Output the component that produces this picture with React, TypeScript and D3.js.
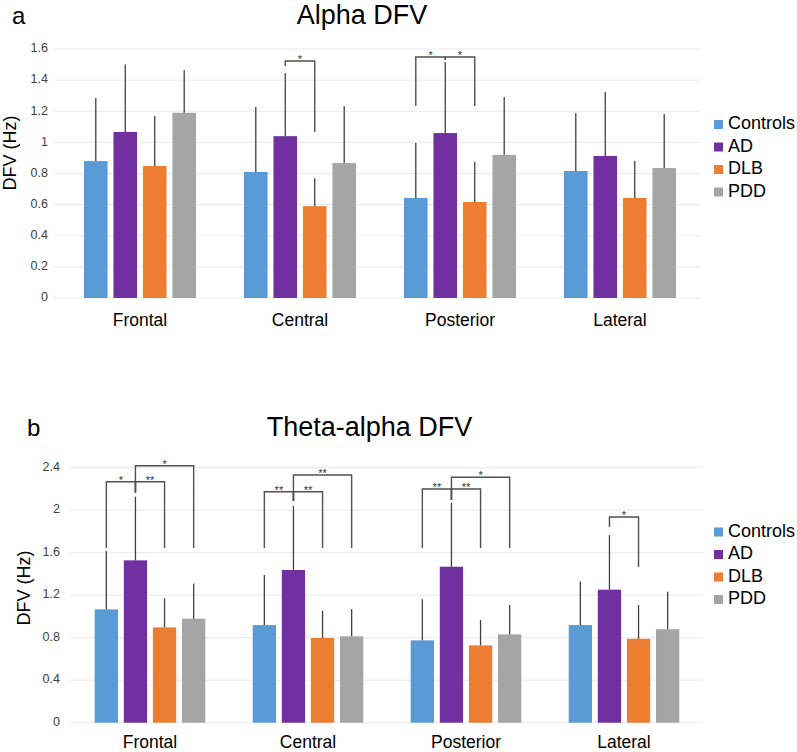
import React from "react";
import * as d3 from "d3";

const regions = ["Frontal", "Central", "Posterior", "Lateral"];
const groups = ["Controls", "AD", "DLB", "PDD"];
const groupColors = ["#5B9BD5", "#7030A0", "#ED7D31", "#A5A5A5"];

// Panel a: Alpha DFV (mean and SD, Hz)
const alphaControls = [0.88, 0.81, 0.643, 0.816];
const alphaAD = [1.067, 1.04, 1.06, 0.913];
const alphaDLB = [0.848, 0.59, 0.617, 0.643];
const alphaPDD = [1.19, 0.867, 0.92, 0.835];
const alphaControlsSD = [0.405, 0.417, 0.353, 0.373];
const alphaADSD = [0.433, 0.405, 0.456, 0.411];
const alphaDLBSD = [0.322, 0.18, 0.257, 0.237];
const alphaPDDSD = [0.275, 0.367, 0.372, 0.348];
const alphaTicks = [0, 0.2, 0.4, 0.6, 0.8, 1, 1.2, 1.4, 1.6];

// Panel b: Theta-alpha DFV
const thetaControls = [1.067, 0.919, 0.775, 0.919];
const thetaAD = [1.528, 1.437, 1.468, 1.252];
const thetaDLB = [0.897, 0.797, 0.728, 0.79];
const thetaPDD = [0.979, 0.813, 0.831, 0.88];
const thetaControlsSD = [0.549, 0.471, 0.386, 0.411];
const thetaADSD = [0.599, 0.603, 0.602, 0.514];
const thetaDLBSD = [0.273, 0.257, 0.238, 0.317];
const thetaPDDSD = [0.332, 0.257, 0.276, 0.353];
const thetaTicks = [0, 0.4, 0.8, 1.2, 1.6, 2, 2.4];

// Significance brackets: [region, from group, to group, level, from-leg end, to-leg end, label]
const alphaBrackets: [string, string, string, number, number, number, string][] = [
  ["Central", "AD", "DLB", 1.523, 1.49, 1.067, "*"],
  ["Posterior", "Controls", "AD", 1.549, 1.234, 1.53, "*"],
  ["Posterior", "AD", "DLB", 1.549, 1.53, 1.234, "*"],
];
const thetaBrackets: [string, string, string, number, number, number, string][] = [
  ["Frontal", "Controls", "AD", 2.268, 1.644, 2.165, "*"],
  ["Frontal", "AD", "DLB", 2.268, 2.165, 1.644, "**"],
  ["Frontal", "AD", "PDD", 2.419, 2.165, 1.644, "*"],
  ["Central", "Controls", "AD", 2.174, 1.644, 2.087, "**"],
  ["Central", "AD", "DLB", 2.174, 2.087, 1.644, "**"],
  ["Central", "AD", "PDD", 2.331, 2.087, 1.644, "**"],
  ["Posterior", "Controls", "AD", 2.2, 1.644, 2.096, "**"],
  ["Posterior", "AD", "DLB", 2.2, 2.096, 1.644, "**"],
  ["Posterior", "AD", "PDD", 2.31, 2.096, 1.644, "*"],
  ["Lateral", "AD", "DLB", 1.936, 1.842, 1.465, "*"],
];

const FONT = "Liberation Sans, Arial, sans-serif";

type PanelProps = {
  letter: string;
  title: string;
  titleX: number;
  titleY: number;
  letterX: number;
  means: number[][];
  sds: number[][];
  ticks: number[];
  brackets: [string, string, string, number, number, number, string][];
  x0: number;
  x1: number;
  y0: number;
  yTop: number;
  gridLeft: number;
  tickX: number;
  yTitleX: number;
  yTitleY: number;
  catY: number;
  legendY: number;
};

function Panel(p: PanelProps) {
  const maxT = p.ticks[p.ticks.length - 1];
  const y = d3.scaleLinear().domain([0, maxT]).range([p.y0, p.yTop]);
  const xOuter = d3
    .scaleBand<string>()
    .domain(regions)
    .range([p.x0, p.x1])
    .paddingInner(0.3)
    .paddingOuter(0.15);
  const xInner = d3
    .scaleBand<string>()
    .domain(groups)
    .range([0, xOuter.bandwidth()])
    .paddingInner(0.2);
  const cx = (r: string, g: string) =>
    (xOuter(r) as number) + (xInner(g) as number) + xInner.bandwidth() / 2;
  const lineColor = "#404040";
  return (
    <g>
      <text x={p.letterX} y={p.titleY} fontSize={24} fontFamily={FONT} fill="#000">
        {p.letter}
      </text>
      <text x={p.titleX} y={p.titleY} fontSize={27} fontFamily={FONT} textAnchor="middle" fill="#000">
        {p.title}
      </text>
      {p.ticks.map((t) => (
        <g key={t}>
          <line x1={p.gridLeft} x2={p.x1} y1={y(t)} y2={y(t)} stroke="#e9e9e9" strokeWidth={1} />
          <text
            x={p.tickX}
            y={y(t)}
            fontSize={12.5}
            fontFamily={FONT}
            textAnchor="end"
            dominantBaseline="middle"
            fill="#404040"
          >
            {String(t)}
          </text>
        </g>
      ))}
      <text
        transform={`translate(${p.yTitleX},${p.yTitleY}) rotate(-90)`}
        fontSize={18}
        fontFamily={FONT}
        textAnchor="middle"
        fill="#000"
      >
        DFV (Hz)
      </text>
      {regions.map((r, ri) => (
        <g key={r}>
          {groups.map((g, gi) => {
            const m = p.means[gi][ri];
            const s = p.sds[gi][ri];
            const bx = (xOuter(r) as number) + (xInner(g) as number);
            return (
              <g key={g}>
                <rect x={bx} y={y(m)} width={xInner.bandwidth()} height={y(0) - y(m)} fill={groupColors[gi]} />
                <line x1={cx(r, g)} x2={cx(r, g)} y1={y(m)} y2={y(m + s)} stroke={lineColor} strokeWidth={1.3} />
              </g>
            );
          })}
          <text
            x={(xOuter(r) as number) + xOuter.bandwidth() / 2}
            y={p.catY}
            fontSize={17.5}
            fontFamily={FONT}
            textAnchor="middle"
            fill="#000"
          >
            {r}
          </text>
        </g>
      ))}
      {p.brackets.map(([r, a, b, lvl, ea, eb, lab], i) => {
        const xa = cx(r, a);
        const xb = cx(r, b);
        const yl = y(lvl);
        return (
          <g key={i}>
            <path
              d={`M${xa},${y(ea)}V${yl}H${xb}V${y(eb)}`}
              fill="none"
              stroke="#505050"
              strokeWidth={1.4}
            />
            <text x={(xa + xb) / 2} y={yl + 2} fontSize={11} fontFamily={FONT} textAnchor="middle" fill="#333">
              {lab}
            </text>
          </g>
        );
      })}
      {groups.map((g, gi) => (
        <g key={g}>
          <rect x={714} y={p.legendY + gi * 22.5 - 4.5} width={9} height={9} fill={groupColors[gi]} />
          <text
            x={728}
            y={p.legendY + gi * 22.5}
            fontSize={18}
            fontFamily={FONT}
            dominantBaseline="middle"
            fill="#000"
          >
            {g}
          </text>
        </g>
      ))}
    </g>
  );
}

export default function App() {
  return (
    <svg
      width={797}
      height={752}
      style={{ position: "absolute", left: 0, top: 0, background: "#fff" }}
    >
      <rect x={0} y={0} width={797} height={752} fill="#fff" />
      <Panel
        letter="a"
        title="Alpha DFV"
        titleX={362}
        titleY={24}
        letterX={12}
        means={[alphaControls, alphaAD, alphaDLB, alphaPDD]}
        sds={[alphaControlsSD, alphaADSD, alphaDLBSD, alphaPDDSD]}
        ticks={alphaTicks}
        brackets={alphaBrackets}
        x0={60}
        x1={700}
        y0={298}
        yTop={49}
        gridLeft={54}
        tickX={48}
        yTitleX={16}
        yTitleY={153}
        catY={326}
        legendY={124.5}
      />
      <Panel
        letter="b"
        title="Theta-alpha DFV"
        titleX={369.5}
        titleY={436}
        letterX={27}
        means={[thetaControls, thetaAD, thetaDLB, thetaPDD]}
        sds={[thetaControlsSD, thetaADSD, thetaDLBSD, thetaPDDSD]}
        ticks={thetaTicks}
        brackets={thetaBrackets}
        x0={71}
        x1={703}
        y0={722.7}
        yTop={467.7}
        gridLeft={70}
        tickX={60}
        yTitleX={30}
        yTitleY={588}
        catY={747.5}
        legendY={532}
      />
    </svg>
  );
}
